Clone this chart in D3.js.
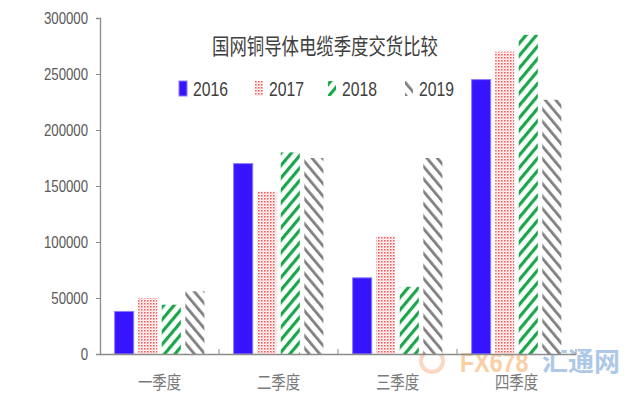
<!DOCTYPE html>
<html><head><meta charset="utf-8">
<script src="https://cdn.jsdelivr.net/npm/d3@7"></script>
<style>body{margin:0;background:#fff}svg{display:block}</style>
</head><body><svg id="c" width="640" height="400"></svg>
<script>
const categories = ["一季度","二季度","三季度","四季度"];
const seriesNames = ["2016","2017","2018","2019"];
const v2016 = [38000,170000,68000,245000];
const v2017 = [50000,145000,105000,270000];
const v2018 = [44000,180000,60000,285000];
const v2019 = [56000,175000,175000,227000];
const yTicks = [0,50000,100000,150000,200000,250000,300000];
const title = "国网铜导体电缆季度交货比较";

const values = [v2016,v2017,v2018,v2019];
const svg = d3.select("#c");
const fontL = "'Liberation Sans',Arial,sans-serif";
const fontC = "'Noto Sans CJK SC',sans-serif";
const defs = svg.append("defs");
// patterns
const p1 = defs.append("pattern").attr("id","dots").attr("width",3).attr("height",3).attr("patternUnits","userSpaceOnUse");
p1.append("rect").attr("width",3).attr("height",3).attr("fill","#fff");
p1.append("rect").attr("width",1.6).attr("height",1.6).attr("fill","#f55");
p1.append("rect").attr("x",1.5).attr("y",1.5).attr("width",1.2).attr("height",1.2).attr("fill","#fbb");
const p2 = defs.append("pattern").attr("id","green").attr("width",8).attr("height",8).attr("patternUnits","userSpaceOnUse").attr("patternTransform","rotate(40)");
p2.append("rect").attr("width",8).attr("height",8).attr("fill","#fff");
p2.append("rect").attr("width",3.2).attr("height",8).attr("fill","#1aa64a");
const p3 = defs.append("pattern").attr("id","gray").attr("width",8).attr("height",8).attr("patternUnits","userSpaceOnUse").attr("patternTransform","rotate(-40)");
p3.append("rect").attr("width",8).attr("height",8).attr("fill","#fff");
p3.append("rect").attr("width",2.8).attr("height",8).attr("fill","#808080");
const fills = ["#3614ff","url(#dots)","url(#green)","url(#gray)"];
const strokes = ["#8a7cff","none","none","none"];

const mLeft=100, mRight=576, mTop=18, mBottom=354;
const x = d3.scaleBand().domain(categories).range([mLeft,mRight]).paddingInner(0).paddingOuter(0);
const xs = d3.scaleBand().domain(seriesNames).range([0,x.bandwidth()]).paddingInner(0.19).paddingOuter(0.62);
const y = d3.scaleLinear().domain([0,300000]).range([mBottom,mTop]);

// watermark (behind)
const wm = svg.append("g").attr("opacity",0.5);
wm.append("circle").attr("cx",432).attr("cy",361).attr("r",11).attr("fill","none").attr("stroke","#f4b183").attr("stroke-width",4);
wm.append("text").attr("transform","translate(460,372) scale(0.86,1)").attr("font-family",fontL).attr("font-weight","bold").attr("font-size",27).attr("fill","#f7a04a").text("FX678");
wm.append("text").attr("transform","translate(542,371)").attr("font-family",fontC).attr("font-weight","bold").attr("font-size",26).attr("fill","#5f93d3").text("汇通网");

// bars
seriesNames.forEach((s,si)=>{
  svg.append("g").selectAll("rect").data(categories).join("rect")
    .attr("x",c=>x(c)+xs(s)).attr("width",xs.bandwidth())
    .attr("y",(c,i)=>y(values[si][i])).attr("height",(c,i)=>y(0)-y(values[si][i]))
    .attr("fill",fills[si]).attr("stroke",strokes[si]).attr("stroke-width",1);
});

// y axis
const ya = svg.append("g").attr("transform",`translate(${mLeft},0)`)
  .call(d3.axisLeft(y).tickValues(yTicks).tickFormat(d3.format("d")).tickSize(4).tickSizeOuter(4));
ya.select(".domain").attr("stroke","#8c8c8c").attr("stroke-width",1.3);
ya.selectAll(".tick line").attr("stroke","#8c8c8c");
ya.selectAll(".tick text").attr("fill","#595959").attr("font-size",16.5).attr("font-family",fontL)
  .attr("x",0).attr("transform","translate(-12,0) scale(0.8,1)");

// x axis
const xa = svg.append("g").attr("transform",`translate(0,${mBottom})`)
  .call(d3.axisBottom(x).tickSize(0).tickSizeOuter(0));
xa.select(".domain").attr("stroke","#8c8c8c").attr("stroke-width",1.3);
xa.selectAll(".tick text").attr("fill","#7a7a7a").attr("font-size",18).attr("font-family",fontC)
  .attr("y",0).attr("dy","0.36em").attr("transform","translate(0,29) scale(0.8,1)");
// category boundary ticks
svg.append("g").selectAll("line").data(categories.slice(1).concat(["end"])).join("line")
  .attr("x1",(c,i)=>i<3?x(c):mRight).attr("x2",(c,i)=>i<3?x(c):mRight)
  .attr("y1",mBottom).attr("y2",mBottom-5).attr("stroke","#8c8c8c");

// title
svg.append("text").attr("transform","translate(325,54) scale(0.79,1)").attr("text-anchor","middle")
  .attr("font-family",fontC).attr("font-size",22).attr("fill","#404040").text(title);

// legend
const lx = [179,255,328,405];
seriesNames.forEach((s,i)=>{
  svg.append("rect").attr("x",lx[i]).attr("y",81).attr("width",8).attr("height",15).attr("fill",fills[i]).attr("stroke",strokes[i]);
  svg.append("text").attr("transform",`translate(${lx[i]+14},96) scale(0.75,1)`).attr("font-family",fontL).attr("font-size",21).attr("fill","#404040").text(s);
});
</script></body></html>
